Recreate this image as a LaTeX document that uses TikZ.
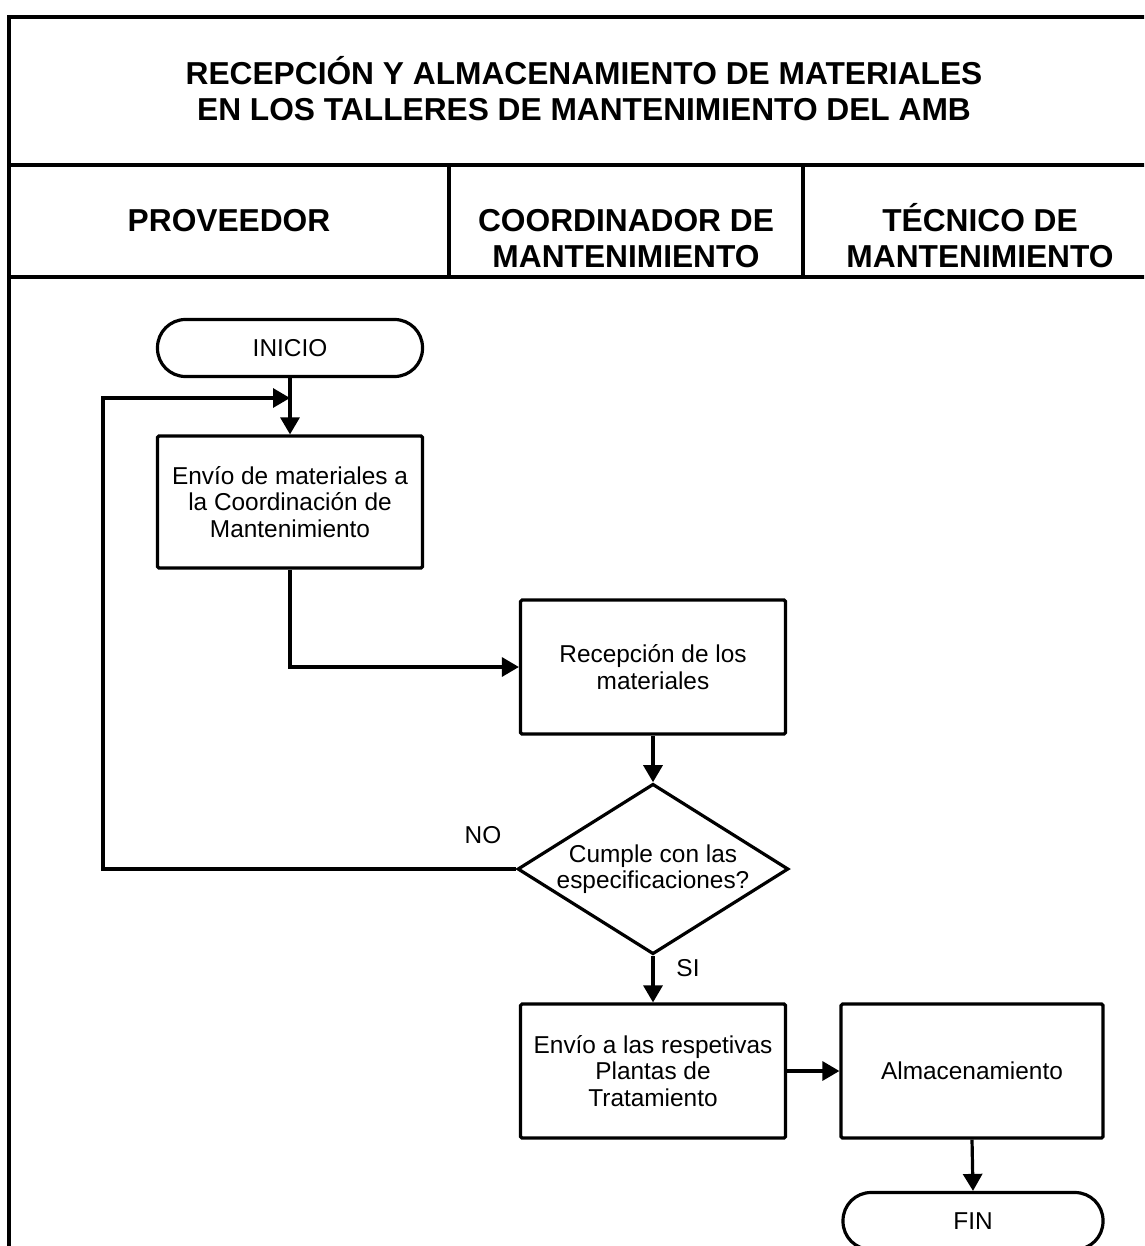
\documentclass[tikz,border=0pt]{standalone}
\usepackage{fontspec}
\setmainfont{Liberation Sans}
\usetikzlibrary{arrows.meta,shapes.geometric}
\newcommand\diagbody{\fontsize{24.4}{26.5}\selectfont}
\newcommand\diaghead{\bfseries\fontsize{31.7}{36}\selectfont}
\begin{document}
\begin{tikzpicture}[x=1pt,y=-1pt,
  rule/.style={line width=3.2pt},
  heading/.style={inner sep=0pt,align=center,font=\diaghead},
  process/.style={draw,line width=3.2pt,rectangle,rounded corners=1.5pt,
    minimum width=265pt,minimum height=134pt,inner sep=0pt,align=center,font=\diagbody},
  terminal/.style={draw,line width=3.2pt,rectangle,rounded corners=28pt,
    minimum width=265pt,minimum height=57pt,inner sep=0pt,font=\diagbody},
  decision/.style={draw,line width=3.2pt,diamond,aspect=1.59,inner sep=0pt,
    minimum width=267pt,minimum height=168pt,align=center,font=\diagbody},
  label/.style={inner sep=0pt,font=\diagbody},
  arr/.style={line width=3.2pt,-{Triangle[length=17pt,width=19pt]}}
]
\useasboundingbox (0,0) rectangle (1144,1246);
\clip (0,0) rectangle (1144,1246);

% table frame
\draw[rule] (1170,17) -- (9,17) -- (9,1270);
\draw[rule] (9,165) -- (1170,165);
\draw[rule] (9,277) -- (1170,277);
\draw[rule] (449,165) -- (449,277);
\draw[rule] (803,165) -- (803,277);

% headings
\node[heading] (title) at (584,89) {RECEPCIÓN Y ALMACENAMIENTO DE MATERIALES\\EN LOS TALLERES DE MANTENIMIENTO DEL AMB};
\node[heading] (lane1) at (229,221) {PROVEEDOR};
\node[heading] (lane2) at (626,239) {COORDINADOR DE\\MANTENIMIENTO};
\node[heading] (lane3) at (980,236) {TÉCNICO DE\\MANTENIMIENTO};

% flow
\node[terminal] (inicio) at (290,348) {INICIO};
\node[process,minimum height=132pt] (envio) at (290,502) {Envío de materiales a\\la Coordinación de\\Mantenimiento};
\node[process] (recep) at (653,667) {Recepción de los\\materiales};
\node[decision] (cumple) at (653,869) {Cumple con las\\especificaciones?};
\node[process] (plantas) at (653,1071) {Envío a las respetivas\\Plantas de\\Tratamiento};
\node[process,minimum width=262pt] (almac) at (972,1071) {Almacenamiento};
\node[terminal,minimum width=260pt] (fin) at (973,1221) {FIN};

\node[label] (no) at (483,835) {NO};
\node[label] (si) at (688,968) {SI};

\coordinate (loopcorner) at (103,398);
\coordinate (loopend) at (290,398);

\draw[arr] (inicio.south) -- (envio.north);
\draw[arr] (envio.south) |- (recep.west);
\draw[arr] (recep.south) -- (cumple.north);
\draw[arr] (cumple.west) -| (loopcorner) -- (loopend);
\draw[arr] (cumple.south) -- (plantas.north);
\draw[arr] (plantas.east) -- (almac.west);
\draw[arr] (almac.south) -- (fin.north);
\end{tikzpicture}
\end{document}
